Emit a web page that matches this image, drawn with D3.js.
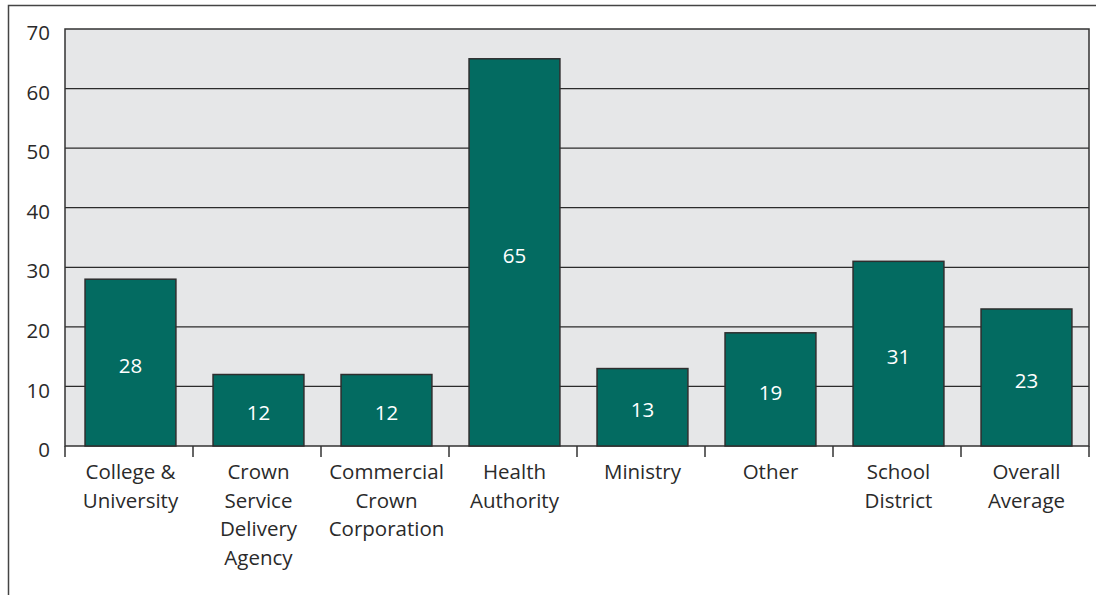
<!DOCTYPE html>
<html>
<head>
<meta charset="utf-8">
<script src="https://cdn.jsdelivr.net/npm/d3@7"></script>
<style>
  html, body { margin: 0; padding: 0; background: #fff; }
  svg { display: block; }
  text { font-family: "Open Sans", sans-serif; }
</style>
</head>
<body>
<svg id="chart" width="1099" height="595"></svg>
<script>
// Category labels (line breaks as printed) and their values
const categories = [
  ["College &", "University"],
  ["Crown", "Service", "Delivery", "Agency"],
  ["Commercial", "Crown", "Corporation"],
  ["Health", "Authority"],
  ["Ministry"],
  ["Other"],
  ["School", "District"],
  ["Overall", "Average"]
];
const values = [28, 12, 12, 65, 13, 19, 31, 23];
const yTicks = [0, 10, 20, 30, 40, 50, 60, 70];

const svg = d3.select("#chart");
const plot = { left: 65, right: 1089, top: 29, bottom: 446 };

// Outer frame (left and top edges)
svg.append("path")
  .attr("d", `M8.5,595 L8.5,5.5 L1096,5.5`)
  .attr("fill", "none").attr("stroke", "#444").attr("stroke-width", 1.5);

const keys = categories.map((c, i) => i);
const x = d3.scaleBand().domain(keys).range([plot.left, plot.right])
  .paddingInner(0.29).paddingOuter(0.145).align(0.54);
const xEdge = d3.scaleLinear().domain([0, keys.length]).range([plot.left, plot.right]);
const y = d3.scaleLinear().domain([0, 70]).range([plot.bottom, plot.top]);

// Plot background
svg.append("rect")
  .attr("x", plot.left).attr("y", plot.top)
  .attr("width", plot.right - plot.left).attr("height", plot.bottom - plot.top)
  .attr("fill", "#e6e7e8");

// Horizontal gridlines
svg.append("g").selectAll("line").data(yTicks.filter(d => d > 0 && d < 70)).join("line")
  .attr("x1", plot.left).attr("x2", plot.right)
  .attr("y1", d => y(d)).attr("y2", d => y(d))
  .attr("stroke", "#2b2b2b").attr("stroke-width", 1.3);

// Plot frame
svg.append("rect")
  .attr("x", plot.left).attr("y", plot.top)
  .attr("width", plot.right - plot.left).attr("height", plot.bottom - plot.top)
  .attr("fill", "none").attr("stroke", "#333").attr("stroke-width", 1.5);

// Bars
svg.append("g").selectAll("rect").data(values).join("rect")
  .attr("x", (d, i) => x(i)).attr("width", x.bandwidth())
  .attr("y", d => y(d)).attr("height", d => y(0) - y(d))
  .attr("fill", "#036b61").attr("stroke", "#2e2e2e").attr("stroke-width", 1.5);

// Value labels inside bars
svg.append("g").selectAll("text").data(values).join("text")
  .attr("x", (d, i) => x(i) + x.bandwidth() / 2)
  .attr("y", d => (y(d) + y(0)) / 2 + 3)
  .attr("dy", "0.35em")
  .attr("text-anchor", "middle")
  .attr("fill", "#fff").attr("font-size", 20.5)
  .text(d => d);

// Y axis labels
svg.append("g").selectAll("text").data(yTicks).join("text")
  .attr("x", 50).attr("y", d => y(d) + 4)
  .attr("dy", "0.35em")
  .attr("text-anchor", "end")
  .attr("fill", "#2a2a2a").attr("font-size", 20.5)
  .text(d => d);

// Category separator ticks below the axis
svg.append("g").selectAll("line").data(d3.range(keys.length + 1)).join("line")
  .attr("x1", d => xEdge(d)).attr("x2", d => xEdge(d))
  .attr("y1", plot.bottom).attr("y2", plot.bottom + 11)
  .attr("stroke", "#333").attr("stroke-width", 1.5);

// Category labels, one line per tspan
const labels = svg.append("g").selectAll("text").data(categories).join("text")
  .attr("text-anchor", "middle")
  .attr("fill", "#2a2a2a").attr("font-size", 20.5)
  .attr("x", (d, i) => x(i) + x.bandwidth() / 2)
  .attr("y", 479);
labels.selectAll("tspan").data(d => d).join("tspan")
  .attr("x", function () { return this.parentNode.getAttribute("x"); })
  .attr("dy", (d, j) => j === 0 ? 0 : 28.5)
  .text(d => d);
</script>
</body>
</html>
